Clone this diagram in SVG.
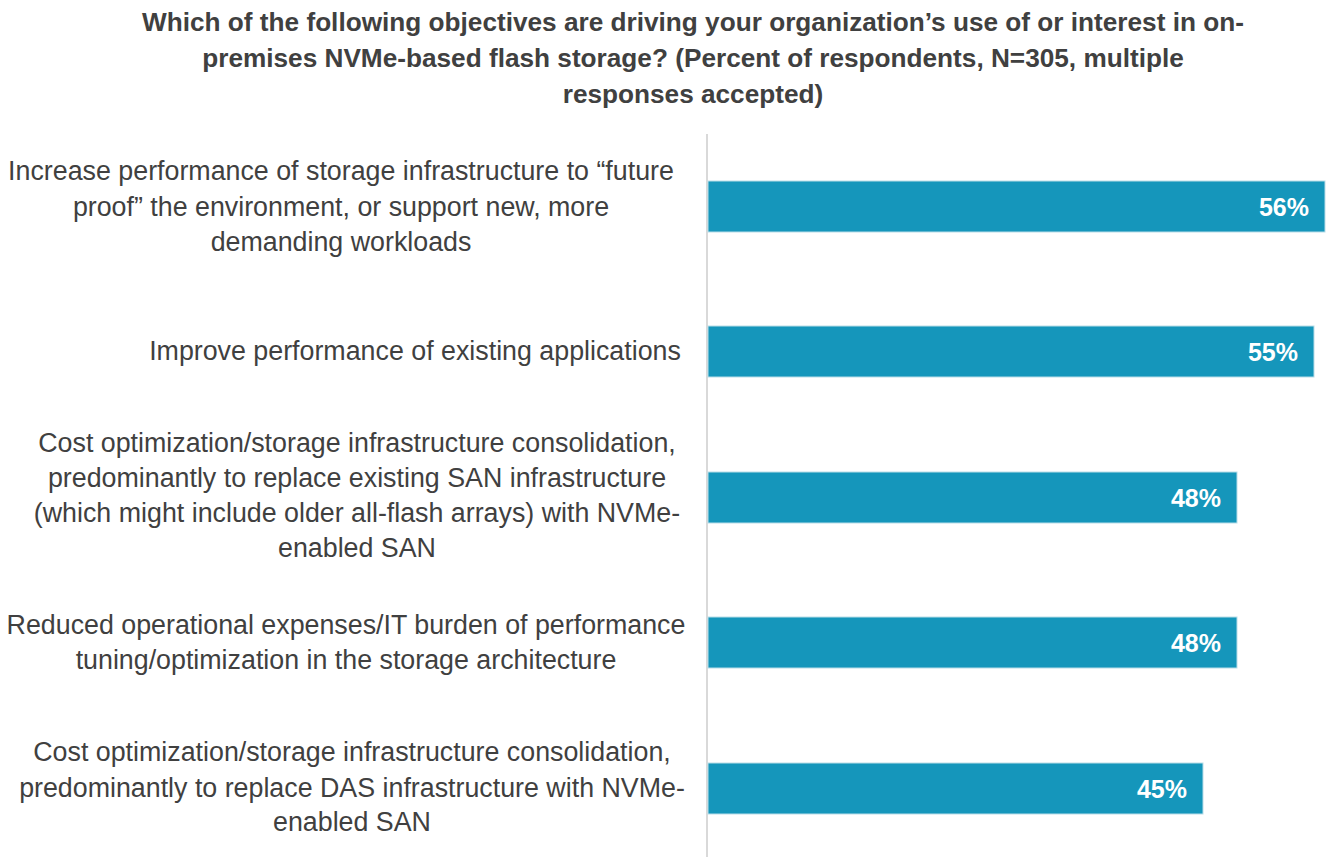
<svg xmlns="http://www.w3.org/2000/svg" width="1330" height="857" viewBox="0 0 1330 857">
<style>
.title{font-family:"Liberation Sans",Arial,sans-serif;font-weight:bold;font-size:26.2px;fill:#404040;text-anchor:middle}
.lbl{font-family:"Liberation Sans",Arial,sans-serif;font-size:26.8px;fill:#404040;text-anchor:middle}
.bar{fill:#1596BB;stroke:#b9dde8;stroke-width:1}
.val{font-family:"Liberation Sans",Arial,sans-serif;font-weight:bold;font-size:25px;fill:#ffffff;text-anchor:end}
.axis{stroke:#d9d9d9;stroke-width:2}
</style>
<rect width="1330" height="857" fill="#ffffff"/>
<g id="title">
<text class="title" x="693" y="31">Which of the following objectives are driving your organization’s use of or interest in on-</text>
<text class="title" x="693" y="67">premises NVMe-based flash storage? (Percent of respondents, N=305, multiple</text>
<text class="title" x="693" y="103">responses accepted)</text>
</g>
<g id="connectors">
<line class="axis" x1="707" y1="134" x2="707" y2="857"/>
</g>
<g id="row1">
<text class="lbl" x="341" y="180">Increase performance of storage infrastructure to “future</text>
<text class="lbl" x="341" y="216">proof” the environment, or support new, more</text>
<text class="lbl" x="341" y="251">demanding workloads</text>
<rect class="bar" x="708" y="181" width="617" height="51"/>
<text class="val" x="1309" y="216">56%</text>
</g>
<g id="row2">
<text class="lbl" x="415" y="360">Improve performance of existing applications</text>
<rect class="bar" x="708" y="326" width="606" height="51"/>
<text class="val" x="1298" y="361">55%</text>
</g>
<g id="row3">
<text class="lbl" x="357" y="452">Cost optimization/storage infrastructure consolidation,</text>
<text class="lbl" x="357" y="487">predominantly to replace existing SAN infrastructure</text>
<text class="lbl" x="357" y="522">(which might include older all-flash arrays) with NVMe-</text>
<text class="lbl" x="357" y="557">enabled SAN</text>
<rect class="bar" x="708" y="472" width="529" height="51"/>
<text class="val" x="1221" y="507">48%</text>
</g>
<g id="row4">
<text class="lbl" x="346" y="634">Reduced operational expenses/IT burden of performance</text>
<text class="lbl" x="346" y="669">tuning/optimization in the storage architecture</text>
<rect class="bar" x="708" y="617" width="529" height="51"/>
<text class="val" x="1221" y="652">48%</text>
</g>
<g id="row5">
<text class="lbl" x="352" y="761">Cost optimization/storage infrastructure consolidation,</text>
<text class="lbl" x="352" y="797">predominantly to replace DAS infrastructure with NVMe-</text>
<text class="lbl" x="352" y="831">enabled SAN</text>
<rect class="bar" x="708" y="763" width="495" height="51"/>
<text class="val" x="1187" y="798">45%</text>
</g>
</svg>
